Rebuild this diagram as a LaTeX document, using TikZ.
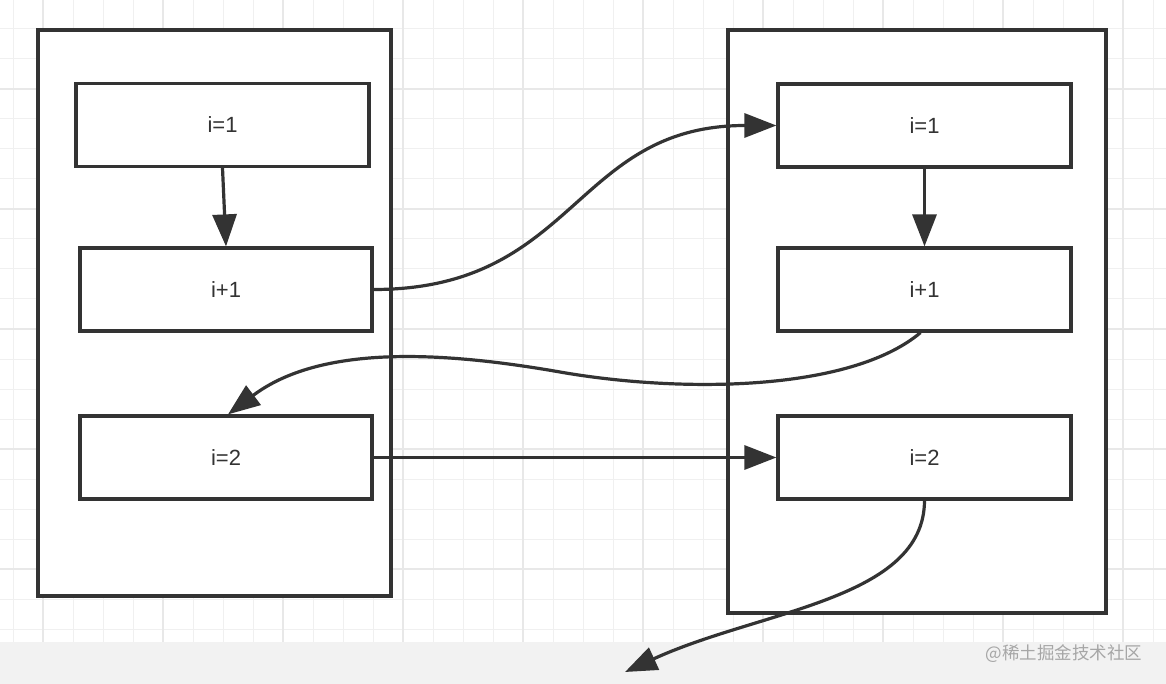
\documentclass[tikz,border=0pt]{standalone}
\usepackage{fontspec}
\setmainfont{Liberation Sans}
\newfontfamily\cjk{Noto Sans CJK SC}
\usetikzlibrary{arrows.meta}
\definecolor{ink}{HTML}{333333}
\definecolor{gridthin}{HTML}{F0F0F0}
\definecolor{gridthick}{HTML}{E8E8E8}
\definecolor{strip}{HTML}{F2F2F2}
\definecolor{mark}{HTML}{A6A6A6}
\begin{document}
\begin{tikzpicture}[x=1pt,y=-1pt,
  outerbox/.style={draw=ink, line width=3.2pt, fill=white, inner sep=0pt},
  stepbox/.style={draw=ink, line width=3.2pt, fill=white, inner sep=0pt,
    minimum width=293pt, minimum height=83pt, text=ink,
    font=\fontsize{22}{26}\selectfont},
  arr/.style={draw=ink, line width=3.2pt, -{Triangle[length=32pt,width=24pt]}},
  thinline/.style={draw=gridthin, line width=1pt},
  thickline/.style={draw=gridthick, line width=1.6pt}]
\useasboundingbox (0,0) rectangle (1166,684);
\fill[white] (0,0) rectangle (1166,684);
% grid
\foreach \gx in {13,43,...,1153} { \draw[thinline] (\gx,0) -- (\gx,642); }
\foreach \gy in {29,59,...,629} { \draw[thinline] (0,\gy) -- (1166,\gy); }
\foreach \gx in {43,163,...,1123} { \draw[thickline] (\gx,0) -- (\gx,642); }
\foreach \gy in {89,209,329,449,569} { \draw[thickline] (0,\gy) -- (1166,\gy); }
\fill[strip] (0,642) rectangle (1166,684);
\node[text=mark, font=\cjk\fontsize{17.5}{20}\selectfont, anchor=east] (wm) at (1146,654) {@稀土掘金技术社区};
% outer boxes
\node[outerbox, minimum width=353pt, minimum height=566pt] (LB) at (214.5,313) {};
\node[outerbox, minimum width=378pt, minimum height=583pt] (RB) at (917,321.5) {};
% inner boxes
\node[stepbox] (L1) at (222.5,125) {i=1};
\node[stepbox, minimum width=292pt] (L2) at (226,289.5) {i+1};
\node[stepbox, minimum width=292pt] (L3) at (226,457.5) {i=2};
\node[stepbox] (R1) at (924.5,125.5) {i=1};
\node[stepbox] (R2) at (924.5,289.5) {i+1};
\node[stepbox] (R3) at (924.5,457.5) {i=2};
\coordinate (mid) at (560,372);
\coordinate (outend) at (625,672);
% connectors
\draw[arr] (L1.south) -- (L2.north);
\draw[arr] (L2.east) .. controls +(203,0) and +(-203,0) .. (R1.west);
\draw[arr] (R1.south) -- (R2.north);
\draw[arr] ([xshift=-4pt]R2.south) .. controls (850,392) and (680,393) .. (mid)
  .. controls (440,351) and (320,345) .. ([xshift=2pt]L3.north);
\draw[arr] (L3.east) -- (R3.west);
\draw[arr] (R3.south) .. controls (924,600) and (760,610) .. (outend);
\end{tikzpicture}
\end{document}
